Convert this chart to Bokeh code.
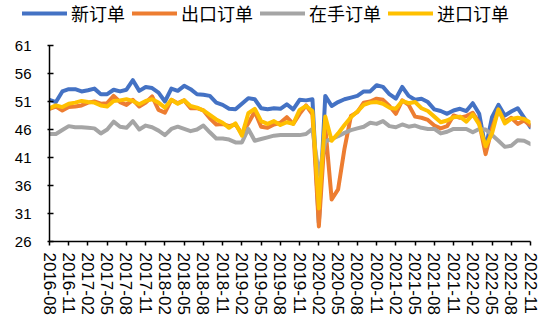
from bokeh.plotting import figure
from bokeh.models import Range1d, FixedTicker, Legend, LegendItem
from bokeh.layouts import column, row
from bokeh.embed import file_html
from bokeh.resources import INLINE

# tick labels (every third month, 2016-08 .. 2022-11)
tick_labels = ["2016-08", "2016-11", "2017-02", "2017-05", "2017-08", "2017-11",
               "2018-02", "2018-05", "2018-08", "2018-11", "2019-02", "2019-05",
               "2019-08", "2019-11", "2020-02", "2020-05", "2020-08", "2020-11",
               "2021-02", "2021-05", "2021-08", "2021-11", "2022-02", "2022-05",
               "2022-08", "2022-11"]

new_orders = [51.3, 50.9, 52.8, 53.2, 53.2, 52.8, 53.0, 53.3, 52.3, 52.3,
              53.1, 52.8, 53.1, 54.8, 52.9, 53.6, 53.4, 52.6, 51.0, 53.3,
              52.9, 53.8, 53.2, 52.3, 52.2, 52.0, 50.8, 50.4, 49.7, 49.6,
              50.6, 51.6, 51.4, 49.8, 49.6, 49.8, 49.7, 50.5, 49.6, 51.3,
              51.2, 51.4, 29.3, 52.0, 50.2, 50.9, 51.4, 51.7, 52.0, 52.8,
              52.8, 53.9, 53.6, 52.3, 51.5, 53.6, 52.0, 51.3, 51.5, 50.9,
              49.6, 49.3, 48.8, 49.4, 49.7, 49.3, 50.7, 48.8, 42.6, 48.2,
              50.4, 48.5, 49.2, 49.8, 48.1, 46.4]

export_orders = [49.7, 50.1, 49.4, 50.0, 50.1, 50.3, 50.8, 51.0, 50.6, 50.7,
                 52.0, 50.9, 50.4, 51.3, 50.1, 50.8, 51.9, 49.5, 49.0, 51.3,
                 50.7, 51.2, 49.8, 49.8, 49.4, 48.0, 46.9, 47.0, 46.6, 46.9,
                 45.2, 47.1, 49.2, 46.5, 46.3, 46.9, 47.2, 48.2, 47.0, 48.8,
                 50.3, 48.7, 28.7, 46.4, 33.5, 35.3, 42.6, 48.4, 49.1, 50.8,
                 51.0, 51.5, 51.3, 50.2, 48.8, 51.2, 50.4, 48.3, 48.1, 47.7,
                 46.7, 46.2, 46.6, 48.5, 48.1, 48.4, 49.0, 47.2, 41.6, 46.2,
                 49.5, 47.4, 48.1, 47.0, 47.6, 46.7]

backlog_orders = [45.2, 45.2, 45.9, 46.6, 46.4, 46.4, 46.3, 46.2, 45.3, 46.0,
                  47.4, 46.5, 46.3, 47.5, 46.0, 46.7, 46.4, 45.8, 45.0, 46.1,
                  46.5, 46.1, 45.7, 46.0, 46.7, 45.5, 44.4, 44.4, 44.2, 43.7,
                  43.7, 46.1, 44.0, 44.3, 44.6, 44.9, 45.0, 45.0, 45.0, 45.0,
                  45.2, 46.1, 38.0, 43.9, 44.3, 44.8, 45.4, 45.9, 46.2, 46.5,
                  47.2, 47.0, 47.5, 46.6, 46.4, 46.9, 46.5, 46.7, 46.3, 46.1,
                  46.1, 45.3, 45.6, 46.1, 46.1, 46.1, 45.5, 46.1, 46.0, 45.0,
                  44.0, 42.9, 43.1, 44.1, 44.0, 43.4]

import_orders = [49.8, 50.3, 50.0, 50.6, 50.8, 51.1, 50.9, 50.8, 50.3, 50.1,
                 51.1, 51.2, 51.4, 51.1, 50.5, 51.1, 51.4, 50.8, 49.9, 51.3,
                 50.6, 51.2, 50.2, 49.9, 49.4, 48.6, 47.8, 47.2, 46.3, 47.1,
                 44.9, 48.9, 49.7, 47.5, 47.0, 47.5, 46.8, 47.3, 47.0, 49.5,
                 50.2, 49.3, 31.9, 48.3, 44.0, 45.3, 46.8, 48.2, 49.2, 50.4,
                 50.8, 50.9, 50.6, 49.9, 49.7, 51.1, 50.7, 50.9, 49.8, 49.3,
                 48.3, 47.3, 47.6, 48.2, 48.3, 47.4, 48.7, 46.9, 43.0, 45.3,
                 49.6, 47.1, 47.9, 48.1, 47.9, 47.2]

series_names = ["新订单", "出口订单", "在手订单", "进口订单"]
series_colors = ["#4472C4", "#ED7D31", "#A5A5A5", "#FFC000"]
y_ticks = [26, 31, 36, 41, 46, 51, 56, 61]

all_series = [new_orders, export_orders, backlog_orders, import_orders]
x = list(range(len(new_orders)))

# ---- main chart ----
p = figure(width=550, height=293, output_backend="svg", toolbar_location=None,
           x_range=Range1d(0, len(x) - 1), y_range=Range1d(26, 61),
           min_border_left=49, min_border_right=20, min_border_top=15,
           min_border_bottom=82)
p.outline_line_color = None
p.background_fill_color = "white"
p.border_fill_color = "white"
p.xgrid.visible = False
p.ygrid.visible = False

for vals, col in zip(all_series, series_colors):
    p.line(x, vals, line_color=col, line_width=4, line_join="round", line_cap="round")

# x axis
p.xaxis.ticker = FixedTicker(ticks=[i * 3 for i in range(len(tick_labels))])
p.xaxis.major_label_overrides = {i * 3: lab for i, lab in enumerate(tick_labels)}
p.xaxis.major_label_orientation = "vertical"
p.xaxis.major_label_text_font = "Liberation Sans"
p.xaxis.major_label_text_font_size = "17px"
p.xaxis.major_label_text_color = "black"
p.xaxis.major_tick_in = 0
p.xaxis.major_tick_out = 4
p.xaxis.minor_tick_line_color = None
p.xaxis.major_label_standoff = 7
p.xaxis.axis_line_color = "black"
p.xaxis.axis_line_width = 1.5
p.xaxis.major_tick_line_color = "black"
p.xaxis.major_tick_line_width = 1.5

# y axis
p.yaxis.ticker = FixedTicker(ticks=y_ticks)
p.yaxis.major_label_text_font = "Liberation Sans"
p.yaxis.major_label_text_font_size = "15px"
p.yaxis.major_label_text_color = "black"
p.yaxis.major_tick_in = 4
p.yaxis.major_tick_out = 2
p.yaxis.minor_tick_line_color = None
p.yaxis.major_label_standoff = 16
p.yaxis.axis_line_color = "black"
p.yaxis.axis_line_width = 1.5
p.yaxis.major_tick_line_color = "black"
p.yaxis.major_tick_line_width = 1.5

# ---- legend strip (series lines lie outside its range; only the legend shows) ----
lg = figure(width=550, height=30, output_backend="svg", toolbar_location=None,
            x_range=Range1d(0, 1), y_range=Range1d(0, 1),
            x_axis_location=None, y_axis_location=None, min_border=0)
lg.outline_line_color = None
lg.xgrid.visible = False
lg.ygrid.visible = False
items = []
for name, vals, col in zip(series_names, all_series, series_colors):
    r = lg.line(x, vals, line_color=col, line_width=4, line_cap="round")
    items.append(LegendItem(label=name, renderers=[r]))
legend = Legend(items=items, orientation="horizontal", location=(22, 4),
                glyph_width=45, glyph_height=18, label_height=18, label_width=10,
                label_standoff=4, spacing=7, padding=0, margin=0,
                border_line_color=None, background_fill_alpha=0,
                label_text_font="Noto Sans CJK SC", label_text_font_size="18px",
                label_text_color="black")
lg.add_layout(legend)

open("out.html", "w").write(file_html(column(row(lg), p, spacing=0), INLINE))
